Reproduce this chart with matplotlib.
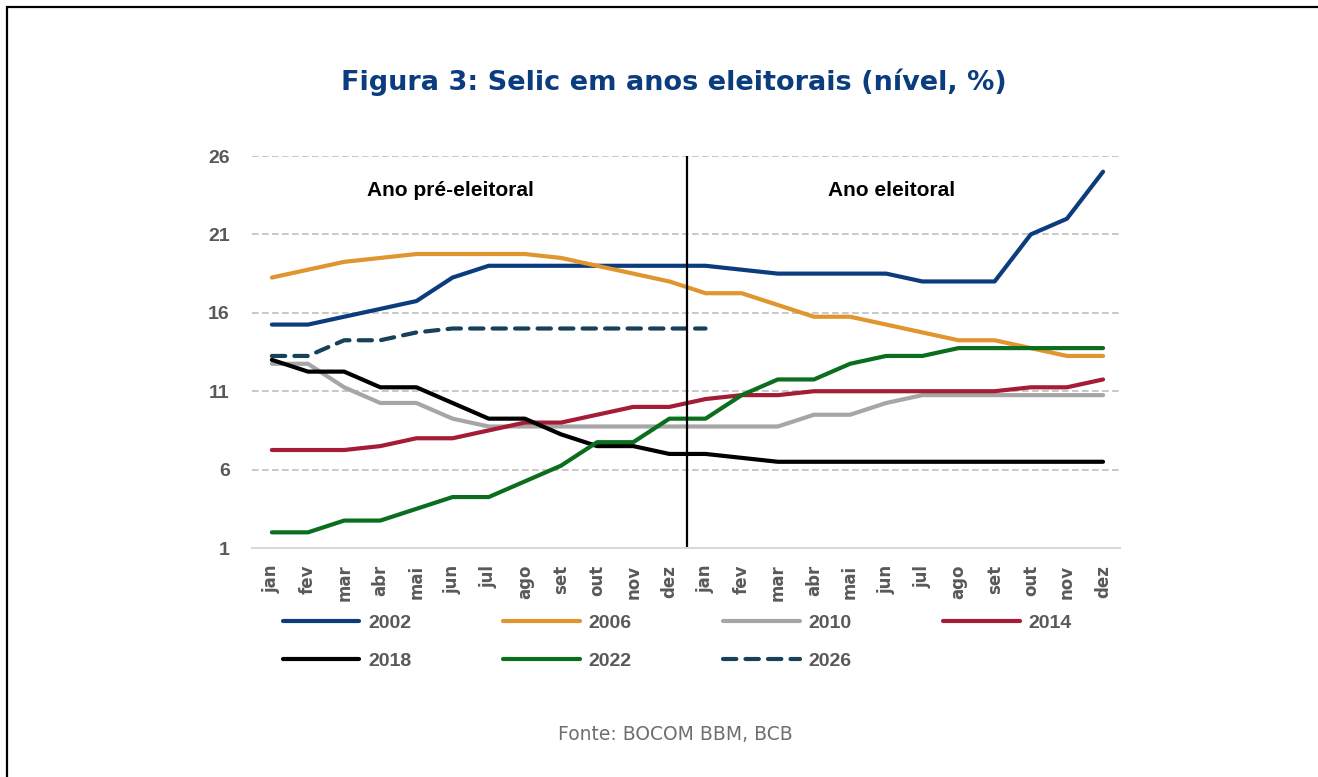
import numpy as np
import matplotlib
matplotlib.use('Agg')
import matplotlib.pyplot as plt
from matplotlib.patches import Rectangle

# Selic rate (%), pre-election year followed by election year
months = ['jan', 'fev', 'mar', 'abr', 'mai', 'jun', 'jul', 'ago', 'set', 'out', 'nov', 'dez']
tick_labels = months + months

selic_2002 = [15.25, 15.25, 15.75, 16.25, 16.75, 18.25, 19, 19, 19, 19, 19, 19,
              19, 18.75, 18.5, 18.5, 18.5, 18.5, 18, 18, 18, 21, 22, 25]
selic_2006 = [18.25, 18.75, 19.25, 19.5, 19.75, 19.75, 19.75, 19.75, 19.5, 19, 18.5, 18,
              17.25, 17.25, 16.5, 15.75, 15.75, 15.25, 14.75, 14.25, 14.25, 13.75, 13.25, 13.25]
selic_2010 = [12.75, 12.75, 11.25, 10.25, 10.25, 9.25, 8.75, 8.75, 8.75, 8.75, 8.75, 8.75,
              8.75, 8.75, 8.75, 9.5, 9.5, 10.25, 10.75, 10.75, 10.75, 10.75, 10.75, 10.75]
selic_2014 = [7.25, 7.25, 7.25, 7.5, 8, 8, 8.5, 9, 9, 9.5, 10, 10,
              10.5, 10.75, 10.75, 11, 11, 11, 11, 11, 11, 11.25, 11.25, 11.75]
selic_2018 = [13, 12.25, 12.25, 11.25, 11.25, 10.25, 9.25, 9.25, 8.25, 7.5, 7.5, 7,
              7, 6.75, 6.5, 6.5, 6.5, 6.5, 6.5, 6.5, 6.5, 6.5, 6.5, 6.5]
selic_2022 = [2, 2, 2.75, 2.75, 3.5, 4.25, 4.25, 5.25, 6.25, 7.75, 7.75, 9.25,
              9.25, 10.75, 11.75, 11.75, 12.75, 13.25, 13.25, 13.75, 13.75, 13.75, 13.75, 13.75]
selic_2026 = [13.25, 13.25, 14.25, 14.25, 14.75, 15, 15, 15, 15, 15, 15, 15,
              15]

series = [
    ('2002', selic_2002, '#0B3C7D', '-'),
    ('2006', selic_2006, '#E0952E', '-'),
    ('2010', selic_2010, '#A6A6A6', '-'),
    ('2014', selic_2014, '#A51C36', '-'),
    ('2018', selic_2018, '#000000', '-'),
    ('2022', selic_2022, '#0B6E1E', '-'),
    ('2026', selic_2026, '#17405A', '--'),
]

fig = plt.figure(figsize=(13.18, 7.77), dpi=100)
ax = fig.add_axes([0.1912, 0.2947, 0.6586, 0.5045])

# outer frame (only left and top edges visible)
fig.patches.append(Rectangle((7 / 1318, -0.1), 1.2, 1.1 - 7 / 777, transform=fig.transFigure,
                             fill=False, edgecolor='black', linewidth=1.6))

handles = {}
for name, vals, color, ls in series:
    x = np.arange(len(vals))
    line, = ax.plot(x, vals, color=color, linewidth=3.0, solid_capstyle='round',
                    dash_capstyle='round', label=name)
    if ls == '--':
        line.set_dashes((3.2, 2.2))
    handles[name] = line

ax.axvline(11.5, color='black', linewidth=1.6, ymin=0, ymax=1)

ax.set_xlim(-0.55, 23.47)
ax.set_ylim(1, 26)
ax.set_yticks([1, 6, 11, 16, 21, 26])
ax.set_xticks(np.arange(24))
ax.set_xticklabels(tick_labels, rotation=90)
ax.yaxis.grid(True, linestyle=(0, (4, 2)), color='#BFBFBF', linewidth=1.2)
ax.set_axisbelow(True)
for side in ['top', 'right', 'left']:
    ax.spines[side].set_visible(False)
ax.spines['bottom'].set_color('#D9D9D9')
ax.spines['bottom'].set_linewidth(1.5)
ax.tick_params(axis='both', length=0, labelcolor='#595959')
ax.tick_params(axis='y', pad=16, labelsize=14)
ax.tick_params(axis='x', pad=12, labelsize=12)
for lbl in ax.get_xticklabels():
    lbl.set_fontfamily('DejaVu Sans')
    lbl.set_fontweight('bold')
for lbl in ax.get_yticklabels():
    lbl.set_fontfamily('Liberation Sans')
    lbl.set_fontweight('bold')

ax.text(4.93, 23.8, 'Ano pré-eleitoral', ha='center', va='center', fontsize=15,
        fontweight='bold', family='Liberation Sans', color='black')
ax.text(17.16, 23.8, 'Ano eleitoral', ha='center', va='center', fontsize=15,
        fontweight='bold', family='Liberation Sans', color='black')

fig.text(674 / 1318, 1 - 82 / 777, 'Figura 3: Selic em anos eleitorais (nível, %)', ha='center',
         va='center', fontsize=19.5, fontweight='bold', color='#0B3C7D', family='DejaVu Sans')
fig.text(675 / 1318, 1 - 735 / 777, 'Fonte: BOCOM BBM, BCB', ha='center', va='center',
         fontsize=13.5, color='#6F6F6F', family='DejaVu Sans')

# legend filled column by column, so order to read as rows
leg_order = ['2002', '2018', '2006', '2022', '2010', '2026', '2014']
leg = fig.legend(handles=[handles[k] for k in leg_order], loc='upper left',
                 bbox_to_anchor=(265 / 1318, 1 - 597 / 777),
                 ncol=4, frameon=False, handlelength=3.95, handletextpad=0.45,
                 columnspacing=4.7, labelspacing=1.05,
                 prop={'family': 'Liberation Sans', 'weight': 'bold', 'size': 14})
for t in leg.get_texts():
    t.set_color('#595959')

fig.savefig('out.png', dpi=100)
